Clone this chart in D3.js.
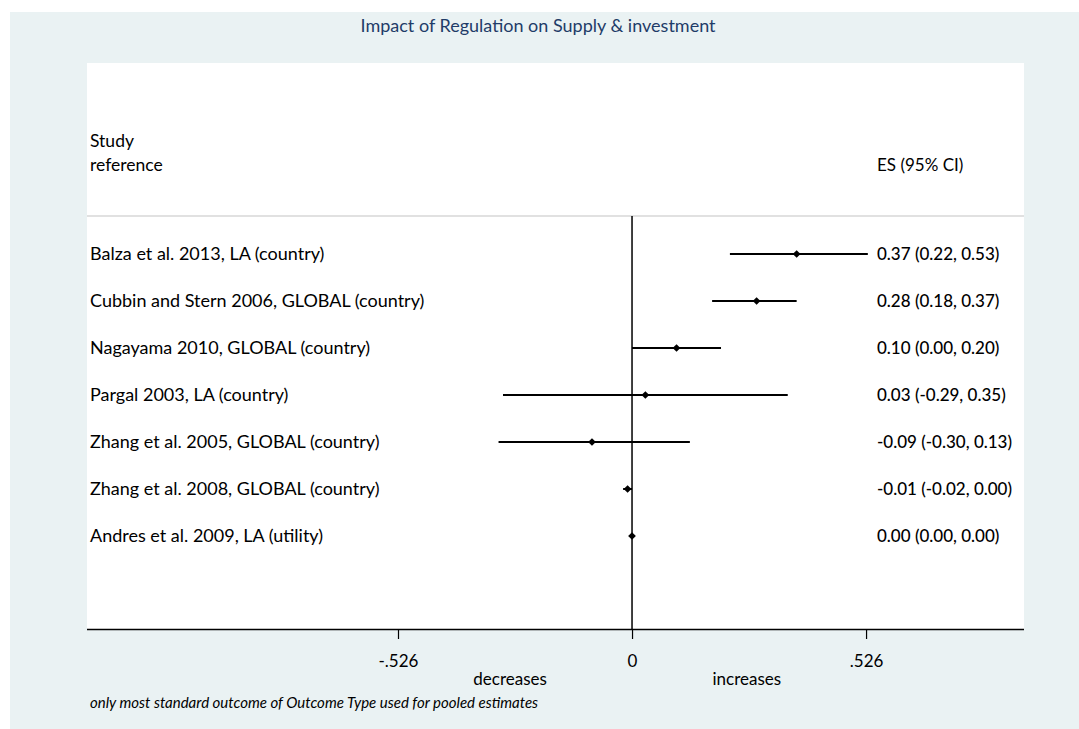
<!DOCTYPE html>
<html><head><meta charset="utf-8">
<script src="https://cdn.jsdelivr.net/npm/d3@7"></script>
<style>body{margin:0;background:#fff;overflow:hidden;} text{font-family:Lato,"Open Sans",sans-serif;}</style>
</head><body>
<svg id="c" width="1079" height="729" style="display:block"></svg>
<script>
const studies = ["Balza et al. 2013, LA (country)","Cubbin and Stern 2006, GLOBAL (country)","Nagayama 2010, GLOBAL (country)","Pargal 2003, LA (country)","Zhang et al. 2005, GLOBAL (country)","Zhang et al. 2008, GLOBAL (country)","Andres et al. 2009, LA (utility)"];
const es = [0.37,0.28,0.10,0.03,-0.09,-0.01,0.00];
const lo = [0.22,0.18,0.00,-0.29,-0.30,-0.02,0.00];
const hi = [0.53,0.37,0.20,0.35,0.13,0.00,0.00];
const tickValues = [-0.526,0,0.526];
const tickLabels = ["-.526","0",".526"];

const svg = d3.select("#c");
const W=1079,H=729;
svg.append("rect").attr("x",10).attr("y",12).attr("width",W-10).attr("height",H-12).attr("fill","#eaf2f3");
const px0=87, px1=1024, py0=63, py1=629;
svg.append("rect").attr("x",px0).attr("y",py0).attr("width",px1-px0).attr("height",py1-py0).attr("fill","#fff");

const x = d3.scaleLinear().domain([-1.225,0.881]).range([px0,px1]);
const y = d3.scalePoint().domain(studies).range([254,536]);
const f = v => d3.format(".2f")(v).replace("\u2212","-");

svg.append("text").attr("x",538).attr("y",32).attr("text-anchor","middle").attr("fill","#1f3c68").attr("font-size",18).text("Impact of Regulation on Supply & investment");
svg.append("text").attr("x",90).attr("y",147).attr("font-size",17.5).text("Study");
svg.append("text").attr("x",90).attr("y",171).attr("font-size",17.5).text("reference");
svg.append("text").attr("x",877).attr("y",171).attr("font-size",17).text("ES (95% CI)");
svg.append("line").attr("x1",px0).attr("x2",px1).attr("y1",216).attr("y2",216).attr("stroke","#c4c4c4").attr("stroke-width",1.2);

// zero line
svg.append("line").attr("x1",x(0)).attr("x2",x(0)).attr("y1",216).attr("y2",py1).attr("stroke","#000").attr("stroke-width",1.5);

const g = svg.append("g");
studies.forEach((s,i)=>{
  const yy=y(s);
  g.append("text").attr("x",90).attr("y",yy+6).attr("font-size",18).text(s);
  if(hi[i]>lo[i]) g.append("line").attr("x1",x(lo[i])).attr("x2",x(hi[i])).attr("y1",yy).attr("y2",yy).attr("stroke","#000").attr("stroke-width",2);
  g.append("path").attr("d",d3.symbol(d3.symbolSquare,30)()).attr("transform",`translate(${x(es[i])},${yy}) rotate(45)`).attr("fill","#000");
  g.append("text").attr("x",877).attr("y",yy+6).attr("font-size",17).attr("font-weight",500).text(`${f(es[i])} (${f(lo[i])}, ${f(hi[i])})`);
});

const ax = d3.axisBottom(x).tickValues(tickValues).tickFormat((d,i)=>tickLabels[i]).tickSize(10).tickPadding(16);
const axg = svg.append("g").attr("transform",`translate(0,${py1})`).call(ax);
axg.select(".domain").attr("d",`M${px0},0.5H${px1}`).attr("stroke","#000").attr("stroke-width",1.5);
axg.selectAll(".tick line").attr("stroke","#000").attr("stroke-width",1.2);
axg.selectAll(".tick text").attr("font-size",17).attr("font-family","Lato,'Open Sans',sans-serif").attr("fill","#000");
svg.append("text").attr("x",x(-0.274)).attr("y",685).attr("text-anchor","middle").attr("font-size",17).text("decreases");
svg.append("text").attr("x",x(0.258)).attr("y",685).attr("text-anchor","middle").attr("font-size",17).text("increases");
svg.append("text").attr("x",90).attr("y",708).attr("font-size",15).attr("font-style","italic").text("only most standard outcome of Outcome Type used for pooled estimates");
</script>
</body></html>
